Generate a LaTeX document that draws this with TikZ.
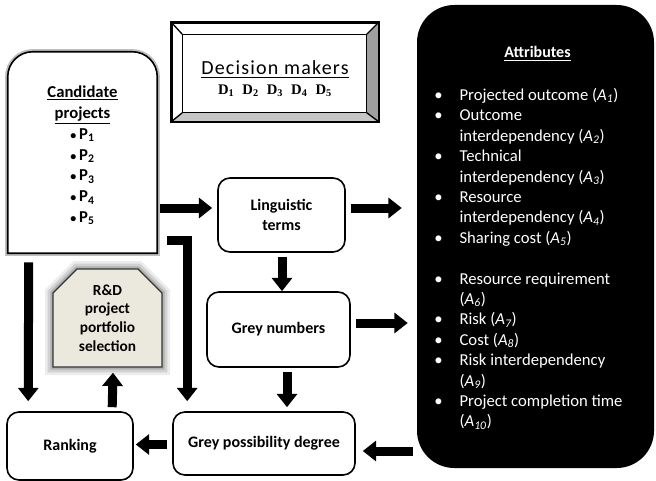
\documentclass[tikz,border=0pt]{standalone}
\usepackage{fontspec}
\setmainfont{Carlito}
\newfontfamily\dmfont[LetterSpace=6]{Carlito}
\newfontfamily\dserif{Liberation Serif}
\usetikzlibrary{positioning,calc,arrows.meta,shapes.misc}
\definecolor{rdfill}{RGB}{235,233,222}
\newcommand{\attitem}{\makebox[19pt][l]{\textbullet}}
\newcommand{\attcont}{\hspace*{19pt}}
\newcommand{\attA}[1]{(\textit{A\textsubscript{#1}})}
\newcommand{\candP}[1]{{\small\textbullet}\,P\textsubscript{#1}}

\begin{document}
\begin{tikzpicture}%
  [x=0.75pt,y=-0.75pt,
   proc/.style=
    {draw,line width=1.2pt,rounded corners=9pt,align=center,
     font=\bfseries\fontsize{12}{14.5}\selectfont},
   candbox/.style=
    {minimum width=111.75pt,minimum height=150.75pt,align=center,
     font=\bfseries\fontsize{12.5}{15.6}\selectfont},
   attrbox/.style=
    {fill=black,rounded corners=28pt,minimum width=177.75pt,minimum height=347.25pt},
   rdbox/.style=
    {chamfered rectangle,chamfered rectangle corners={north west,north east},
     chamfered rectangle xsep=9pt,chamfered rectangle ysep=9pt,
     fill=rdfill,draw=black!80,line width=1pt,inner sep=0pt,
     minimum width=81.75pt,minimum height=73.5pt,align=center,
     font=\bfseries\fontsize{11.5}{13.9}\selectfont,
     preaction={draw=gray,line width=12pt,opacity=0.15},
     preaction={draw=gray,line width=8pt,opacity=0.25},
     preaction={draw=gray,line width=4pt,opacity=0.4}},
   dmframe/.style=
    {draw,fill=white,line width=1.2pt,minimum width=154.5pt,minimum height=73.5pt},
   flow/.style={line width=6.75pt,line join=miter,-{Triangle[width=15pt,length=10pt]}}
  ]
  \useasboundingbox (0,0) rectangle (656,481);

  % candidate projects
  \node[candbox] (cand) at (82.5,152.5) {};
  \draw[preaction={draw=gray!50,line width=4pt},fill=white,line width=1.2pt]
    (cand.south west) -- ($(cand.north west)+(0,25)$)
    arc[start angle=180,end angle=90,radius=18.75pt]
    -- ($(cand.north east)+(-25,0)$)
    arc[start angle=90,end angle=0,radius=18.75pt]
    -- (cand.south east) -- cycle;
  \node[candbox] (candtext) at ($(cand)+(0,3)$)
    {\underline{Candidate}\\\underline{projects}\\
     \candP{1}\\\candP{2}\\\candP{3}\\\candP{4}\\\candP{5}};

  % decision makers
  \node[dmframe] (dm) at (275,72) {};
  \fill[gray!75] (dm.north east) -- (dm.south east)
    -- ($(dm.south east)+(-12,-9)$) -- ($(dm.north east)+(-12,12)$) -- cycle;
  \fill[gray!45] (dm.south west) -- (dm.south east)
    -- ($(dm.south east)+(-12,-9)$) -- ($(dm.south west)+(11,-9)$) -- cycle;
  \draw[line width=1pt] ($(dm.north west)+(11,12)$) rectangle ($(dm.south east)+(-12,-9)$);
  \draw[line width=1pt] (dm.north west) -- ($(dm.north west)+(11,12)$)
    (dm.north east) -- ($(dm.north east)+(-12,12)$)
    (dm.south east) -- ($(dm.south east)+(-12,-9)$)
    (dm.south west) -- ($(dm.south west)+(11,-9)$);
  \draw[line width=1.2pt] (dm.north west) rectangle (dm.south east);
  \node[align=center] (dmtext) at ($(dm.center)+(0,7)$)
    {{\dmfont\fontsize{15}{18}\selectfont\underline{Decision makers}}\\[3pt]
     {\dserif\bfseries\fontsize{11}{13}\selectfont
      D\textsubscript{1}\hspace{6pt}D\textsubscript{2}\hspace{6pt}D\textsubscript{3}\hspace{6pt}D\textsubscript{4}\hspace{6pt}D\textsubscript{5}}};

  % attributes
  \node[attrbox] (attr) at (535.5,236.5) {};
  \node[text=white,font=\bfseries\fontsize{12}{15}\selectfont] (attrtitle)
    at ($(attr.north)+(2,49)$) {\underline{Attributes}};
  \node[text=white,align=left,anchor=north west,inner sep=0pt,
        font=\fontsize{12.5}{15.3}\selectfont] (attrlist) at (434,88)
    {\attitem Projected outcome \attA{1}\\
     \attitem Outcome\\
     \attcont interdependency \attA{2}\\
     \attitem Technical\\
     \attcont interdependency \attA{3}\\
     \attitem Resource\\
     \attcont interdependency \attA{4}\\
     \attitem Sharing cost \attA{5}\\[15.3pt]
     \attitem Resource requirement\\
     \attcont \attA{6}\\
     \attitem Risk \attA{7}\\
     \attitem Cost \attA{8}\\
     \attitem Risk interdependency\\
     \attcont \attA{9}\\
     \attitem Project completion time\\
     \attcont \attA{10}};

  % process steps
  \node[proc,minimum width=95.25pt,minimum height=55.5pt] (ling) at (281.5,215) {Linguistic\\terms};
  \node[proc,minimum width=107.25pt,minimum height=56.25pt] (gnum) at (278.5,329.5) {Grey numbers};
  \node[proc,minimum width=136.5pt,minimum height=47.25pt] (gpd) at (264,443.5) {Grey possibility degree};
  \node[proc,minimum width=94.5pt,minimum height=51pt] (rank) at (70,446) {Ranking};
  \node[rdbox] (rd) at (107.5,318) {R\&D\\project\\portfolio\\selection};

  % arrows
  \draw[flow] ($(cand.east |- ling.west)+(3,-7)$) -- ($(ling.west)+(-5,-7)$);
  \draw[flow] ($(ling.east)+(5,-7)$) -- ($(attr.west |- ling.east)+(-15,-7)$);
  \draw[flow] ($(ling.south)+(0.5,4)$) -- ($(ling.south |- gnum.north)+(0.5,0)$);
  \draw[flow] ($(gnum.east)+(5,-6.5)$) -- ($(attr.west |- gnum.east)+(-9,-6.5)$);
  \draw[flow] ($(gnum.south)+(8.5,4)$) -- ($(gnum.south |- gpd.north)+(8.5,-4)$);
  \draw[flow] ($(attr.west |- gpd.east)+(-4,7.5)$) -- ($(gpd.east)+(7,7.5)$);
  \draw[flow] ($(gpd.west)+(-5,1)$) -- ($(rank.east)+(2,-1.5)$);
  \draw[flow] ($(cand.south west)+(21,9)$) -- ($(rank.north west)+(22,-10)$);
  \draw[flow] ($(rank.north west)+(106,-4)$) -- ($(rd.south)+(5.5,5)$);
  \draw[flow] ($(cand.south east)+(10,-13)$) -| ($(gpd.north west)+(15,-10)$);
\end{tikzpicture}
\end{document}
